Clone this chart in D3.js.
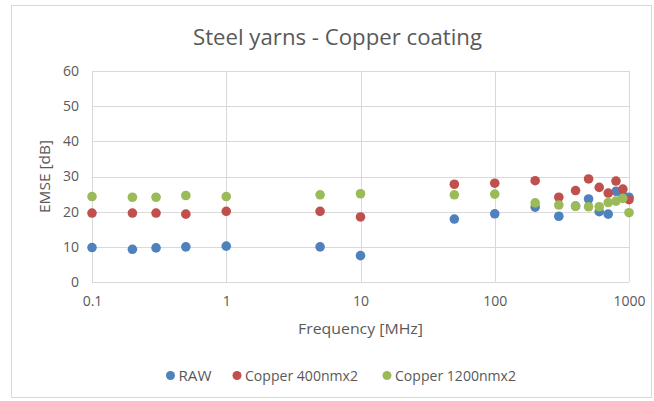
<!DOCTYPE html>
<html>
<head>
<meta charset="utf-8">
<script src="https://cdn.jsdelivr.net/npm/d3@7"></script>
<style>
  html, body { margin: 0; padding: 0; background: #fff; }
  svg { display: block; font-family: "Open Sans", "Liberation Sans", sans-serif; }
</style>
</head>
<body>
<svg id="chart" width="654" height="401"></svg>
<script>
// Shielding effectiveness of steel yarns, before and after copper coating
const frequencies = [0.1, 0.2, 0.3, 0.5, 1, 5, 10, 50, 100, 200, 300, 400, 500, 600, 700, 800, 900, 1000];
const rawValues       = [9.8, 9.3, 9.7, 10.0, 10.2, 10.0, 7.5, 17.9, 19.4, 21.3, 18.7, 21.6, 23.6, 20.0, 19.3, 25.8, 24.6, 24.1];
const copper400Values = [19.6, 19.6, 19.6, 19.3, 20.1, 20.1, 18.5, 27.8, 28.1, 28.8, 24.1, 26.0, 29.3, 26.9, 25.3, 28.7, 26.4, 23.4];
const copper1200Values= [24.3, 24.1, 24.1, 24.6, 24.3, 24.8, 25.1, 24.8, 25.0, 22.5, 21.9, 21.5, 21.4, 21.4, 22.6, 23.0, 23.8, 19.7];
const seriesNames  = ["RAW", "Copper 400nmx2", "Copper 1200nmx2"];
const seriesColors = ["#4F81BD", "#C0504D", "#9BBB59"];
const xTicks = [0.1, 1, 10, 100, 1000];
const yTicks = [0, 10, 20, 30, 40, 50, 60];

const series = [rawValues, copper400Values, copper1200Values].map((vals, i) => ({
  name: seriesNames[i],
  color: seriesColors[i],
  points: frequencies.map((f, j) => ({ f, v: vals[j] }))
}));

const svg = d3.select("#chart");
const textColor = "#595959";
const gridColor = "#d9d9d9";

// chart frame
svg.append("rect")
  .attr("x", 11.5).attr("y", 5.5).attr("width", 640).attr("height", 392)
  .attr("fill", "#fff").attr("stroke", "#d9d9d9").attr("stroke-width", 1);

const plot = { left: 92, right: 629, top: 71, bottom: 282 };

const x = d3.scaleLog().domain([0.1, 1000]).range([plot.left, plot.right]);
const y = d3.scaleLinear().domain([0, 60]).range([plot.bottom, plot.top]);

// gridlines
const g = svg.append("g");
g.selectAll("line.h").data(yTicks).join("line")
  .attr("x1", plot.left).attr("x2", plot.right)
  .attr("y1", d => Math.round(y(d)) + 0.5).attr("y2", d => Math.round(y(d)) + 0.5)
  .attr("stroke", gridColor);
g.selectAll("line.v").data(xTicks).join("line")
  .attr("x1", d => Math.round(x(d)) + 0.5).attr("x2", d => Math.round(x(d)) + 0.5)
  .attr("y1", plot.top).attr("y2", plot.bottom)
  .attr("stroke", gridColor);

// axes (labels only; lines come from the grid)
const xAxis = d3.axisBottom(x).tickValues(xTicks).tickFormat(d3.format("~g")).tickSize(0).tickPadding(14);
const yAxis = d3.axisLeft(y).tickValues(yTicks).tickSize(0).tickPadding(13);

const xa = svg.append("g").attr("transform", `translate(0,${plot.bottom})`).call(xAxis);
const ya = svg.append("g").attr("transform", `translate(${plot.left},0)`).call(yAxis);
[xa, ya].forEach(a => {
  a.select(".domain").remove();
  a.selectAll("text").attr("fill", textColor).style("font-size", "14px")
    .style("font-family", "'Open Sans', 'Liberation Sans', sans-serif");
});

// data points
series.forEach(s => {
  svg.append("g").selectAll("circle").data(s.points).join("circle")
    .attr("cx", d => x(d.f)).attr("cy", d => y(d.v)).attr("r", 4.8)
    .attr("fill", s.color);
});

// title and axis titles
svg.append("text").attr("x", 337.5).attr("y", 45).attr("text-anchor", "middle")
  .attr("fill", textColor).style("font-size", "21px")
  .attr("textLength", 289).attr("lengthAdjust", "spacingAndGlyphs")
  .text("Steel yarns - Copper coating");
svg.append("text").attr("x", 360.5).attr("y", 334).attr("text-anchor", "middle")
  .attr("fill", textColor).style("font-size", "15px")
  .attr("textLength", 125).attr("lengthAdjust", "spacingAndGlyphs")
  .text("Frequency [MHz]");
svg.append("text").attr("transform", "translate(50,176.5) rotate(-90)").attr("text-anchor", "middle")
  .attr("fill", textColor).style("font-size", "15px")
  .attr("textLength", 73).attr("lengthAdjust", "spacingAndGlyphs")
  .text("EMSE [dB]");

// legend
const legendX = [170.5, 237, 387];
const legendWidths = [33, 113, 121];
const leg = svg.append("g");
series.forEach((s, i) => {
  const item = leg.append("g").attr("transform", `translate(${legendX[i]},375.5)`);
  item.append("circle").attr("r", 4.5).attr("fill", s.color);
  item.append("text").attr("x", 8).attr("y", 5).attr("fill", textColor)
    .style("font-size", "14px")
    .attr("textLength", legendWidths[i]).attr("lengthAdjust", "spacingAndGlyphs")
    .text(s.name);
});
</script>
</body>
</html>
